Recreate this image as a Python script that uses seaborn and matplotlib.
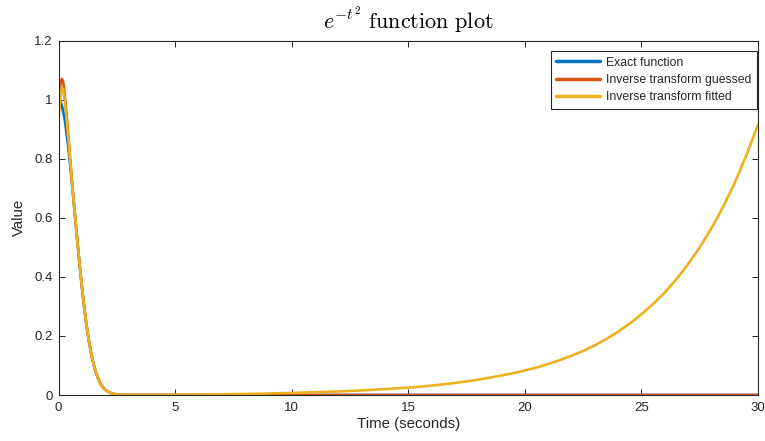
import matplotlib
matplotlib.use("Agg")
import matplotlib.pyplot as plt
import seaborn as sns
import pandas as pd

# ---- data ----
time_s = [0, 0.05, 0.1, 0.15, 0.2, 0.25, 0.3, 0.4, 0.5, 0.6, 0.7, 0.8, 0.9, 1.0,
          1.1, 1.2, 1.3, 1.4, 1.5, 1.6, 1.7, 1.8, 1.9, 2.0, 2.2, 2.4, 2.6, 2.8, 3.0,
          4, 5, 6, 7, 8, 9, 10, 11, 12, 13, 14, 15, 15.5, 16, 16.5, 17, 17.5, 18,
          18.5, 19, 19.5, 20, 20.5, 21, 21.5, 22, 22.5, 23, 23.5, 24, 24.5, 25,
          25.5, 26, 26.5, 27, 27.5, 28, 28.5, 29, 29.5, 30]

exact_values = [1.0, 0.997, 0.99, 0.978, 0.96, 0.94, 0.914, 0.852, 0.779, 0.698, 0.613,
                0.527, 0.445, 0.368, 0.298, 0.237, 0.185, 0.141, 0.105, 0.077, 0.056,
                0.039, 0.027, 0.018, 0.008, 0.003, 0.001, 0.0004, 0.0001,
                0, 0, 0, 0, 0, 0, 0, 0, 0, 0, 0, 0, 0, 0, 0, 0, 0, 0,
                0, 0, 0, 0, 0, 0, 0, 0, 0, 0, 0, 0, 0, 0,
                0, 0, 0, 0, 0, 0, 0, 0, 0, 0]

guessed_values = [0.97, 1.03, 1.06, 1.07, 1.06, 1.03, 0.99, 0.90, 0.80, 0.705, 0.615,
                  0.528, 0.446, 0.369, 0.298, 0.237, 0.185, 0.141, 0.105, 0.077, 0.056,
                  0.039, 0.027, 0.018, 0.008, 0.003, 0.001, 0.0004, 0.0001,
                  0, 0, 0, 0, 0, 0, 0, 0, 0, 0, 0, 0, 0, 0, 0, 0, 0, 0,
                  0, 0, 0, 0, 0, 0, 0, 0, 0, 0, 0, 0, 0, 0,
                  0, 0, 0, 0, 0, 0, 0, 0, 0, 0]

fitted_values = [0.92, 0.98, 1.02, 1.04, 1.035, 1.01, 0.975, 0.89, 0.795, 0.70, 0.613,
                 0.527, 0.445, 0.368, 0.298, 0.237, 0.185, 0.141, 0.105, 0.077, 0.056,
                 0.039, 0.027, 0.018, 0.008, 0.003, 0.0012, 0.0006, 0.0005,
                 0.0006, 0.001, 0.0015, 0.0025, 0.0035, 0.005, 0.007, 0.0095, 0.012,
                 0.0155, 0.020, 0.025, 0.028, 0.032, 0.036, 0.041, 0.046, 0.052,
                 0.059, 0.066, 0.074, 0.083, 0.093, 0.105, 0.118, 0.133, 0.149,
                 0.168, 0.190, 0.214, 0.242, 0.273,
                 0.308, 0.347, 0.392, 0.443, 0.500, 0.564, 0.636, 0.718, 0.811, 0.915]

series_names = ["Exact function", "Inverse transform guessed", "Inverse transform fitted"]
x_ticks = [0, 5, 10, 15, 20, 25, 30]
y_ticks = [0, 0.2, 0.4, 0.6, 0.8, 1.0, 1.2]
y_tick_labels = ["0", "0.2", "0.4", "0.6", "0.8", "1", "1.2"]

df = pd.concat([
    pd.DataFrame({"t": time_s, "v": exact_values, "series": series_names[0]}),
    pd.DataFrame({"t": time_s, "v": guessed_values, "series": series_names[1]}),
    pd.DataFrame({"t": time_s, "v": fitted_values, "series": series_names[2]}),
], ignore_index=True)

palette = {series_names[0]: "#0072BD",
           series_names[1]: "#D95319",
           series_names[2]: "#EDB120"}

# ---- style ----
sns.set_style("white")
plt.rcParams["font.family"] = ["Liberation Sans", "DejaVu Sans"]
plt.rcParams["mathtext.fontset"] = "cm"

W, H = 765, 441
fig = plt.figure(figsize=(W / 100, H / 100), dpi=100)
fig.patch.set_facecolor("white")
left, right, top, bottom = 58.5, 758, 40.5, 395
ax = fig.add_axes([left / W, 1 - bottom / H, (right - left) / W, (bottom - top) / H])

sns.lineplot(data=df, x="t", y="v", hue="series", hue_order=series_names,
             palette=palette, linewidth=1.9, legend=False, ax=ax, sort=False,
             estimator=None)

ax.set_xlim(0, 30)
ax.set_ylim(0, 1.2)
ax.set_xticks(x_ticks)
ax.set_xticklabels([str(v) for v in x_ticks])
ax.set_yticks(y_ticks)
ax.set_yticklabels(y_tick_labels)

dark = "#262626"
for s in ax.spines.values():
    s.set_visible(True)
    s.set_color(dark)
    s.set_linewidth(0.8)
ax.tick_params(direction="in", length=4, width=0.7, colors=dark, labelsize=9.5,
               top=True, right=True, bottom=True, left=True)
ax.tick_params(axis="x", pad=5)
ax.tick_params(axis="y", pad=4)

ax.set_xlabel("Time (seconds)", fontsize=10.8, color=dark, labelpad=2)
ax.set_ylabel("Value", fontsize=10.8, color=dark, labelpad=6)
ax.set_title(r"$e^{-t^2}\ \mathrm{function\ plot}$", fontsize=16, color="black", pad=8)

leg = ax.legend(ax.lines[:3], series_names, loc="upper right",
                bbox_to_anchor=(756.7 / W, 1 - 51 / H), bbox_transform=fig.transFigure,
                borderaxespad=0, fontsize=8.8, frameon=True, fancybox=False,
                framealpha=1, edgecolor=dark, handlelength=3.6, handletextpad=0.45,
                labelspacing=0.45, borderpad=0.45)
leg.get_frame().set_linewidth(0.8)
for line in leg.get_lines():
    line.set_linewidth(2.5)

fig.savefig("out.png", dpi=100)
